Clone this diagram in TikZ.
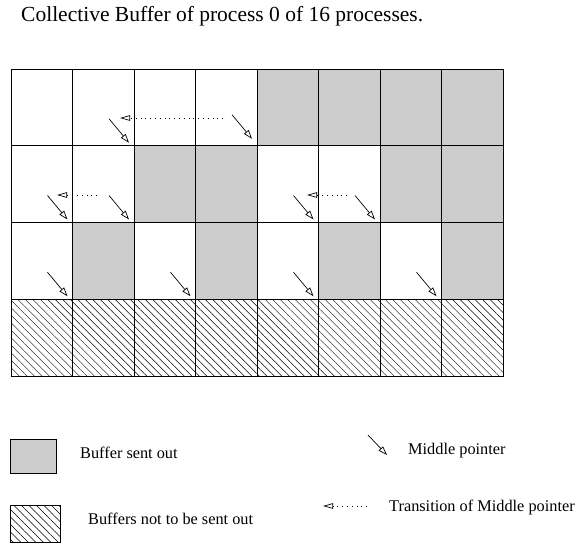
\documentclass[tikz,border=0pt]{standalone}
\usepackage{fontspec}
\setmainfont{Liberation Serif}
\usetikzlibrary{arrows.meta,patterns.meta}
\definecolor{sentgray}{HTML}{CCCCCC}
\begin{document}
\begin{tikzpicture}[x=1pt,y=-1pt,
  cell/.style={draw=black,line width=0.9pt,minimum width=61.5pt,minimum height=76.75pt,inner sep=0pt,outer sep=0pt},
  emptycell/.style={fill=white},
  sent/.style={fill=sentgray},
  kept/.style={pattern={Lines[angle=-45,distance=5.3pt,line width=0.45pt]},pattern color=black},
  midptr/.style={line width=0.7pt,-{Triangle[open,length=9pt,width=6pt,line width=0.7pt]}},
  trans/.style={line width=0.7pt,dash pattern=on 0.8pt off 4pt,-{Triangle[open,length=10pt,width=5.5pt,line width=0.7pt]}},
  txt/.style={font=\fontsize{16.3}{18}\selectfont,inner sep=0pt,anchor=base west},
  legbox/.style={draw=black,line width=0.9pt,inner sep=0pt,outer sep=0pt}]

\useasboundingbox (0,0) rectangle (576,544);

\node[anchor=base west,inner sep=0pt,font=\fontsize{21.5}{24}\selectfont] (title) at (21,21.7) {Collective Buffer of process 0 of 16 processes.};

% grid of buffers
\foreach \r/\c/\s in {
  0/0/emptycell,0/1/emptycell,0/2/emptycell,0/3/emptycell,0/4/sent,0/5/sent,0/6/sent,0/7/sent,
  1/0/emptycell,1/1/emptycell,1/2/sent,1/3/sent,1/4/emptycell,1/5/emptycell,1/6/sent,1/7/sent,
  2/0/emptycell,2/1/sent,2/2/emptycell,2/3/sent,2/4/emptycell,2/5/sent,2/6/emptycell,2/7/sent,
  3/0/kept,3/1/kept,3/2/kept,3/3/kept,3/4/kept,3/5/kept,3/6/kept,3/7/kept}
  \node[cell,\s] (c-\r-\c) at ({41.75+61.5*\c},{107.375+76.75*\r}) {};

% middle pointers
\foreach \n/\dy in {c-0-1/3,c-0-3/7,c-1-0/3,c-1-1/3,c-1-4/3,c-1-5/3,c-2-0/3,c-2-2/3,c-2-4/3,c-2-6/3} {
  \coordinate (\n-tip) at ([shift={(-5,-\dy)}]\n.south east);
  \coordinate (\n-tail) at ([shift={(-25,-\dy-24)}]\n.south east);
  \draw[midptr] (\n-tail) -- (\n-tip);
}

% transitions of middle pointer
\coordinate (tr0-from) at (223,118);
\coordinate (tr0-to) at (120,118);
\coordinate (tr1-from) at (97,195);
\coordinate (tr1-to) at (57,195);
\coordinate (tr2-from) at (347,195);
\coordinate (tr2-to) at (307,195);
\draw[trans] (tr0-from) -- (tr0-to);
\draw[trans] (tr1-from) -- (tr1-to);
\draw[trans] (tr2-from) -- (tr2-to);

% legend
\node[legbox,fill=sentgray,minimum width=46pt,minimum height=34pt] (leg-sent) at (33,456) {};
\node[legbox,kept,minimum width=50.6pt,minimum height=37pt] (leg-kept) at (35.3,524) {};
\node[txt] (leg-sent-txt) at (80,458.5) {Buffer sent out};
\node[txt] (leg-kept-txt) at (88,524.4) {Buffers not to be sent out};

\coordinate (lm-tail) at (368,435);
\coordinate (lm-tip) at (387,455);
\draw[midptr] (lm-tail) -- (lm-tip);
\node[txt] (leg-mid-txt) at (408,454.4) {Middle pointer};

\coordinate (lt-from) at (367,506);
\coordinate (lt-to) at (323,506);
\draw[trans] (lt-from) -- (lt-to);
\node[txt] (leg-tr-txt) at (389,511.4) {Transition of Middle pointer};
\end{tikzpicture}
\end{document}
